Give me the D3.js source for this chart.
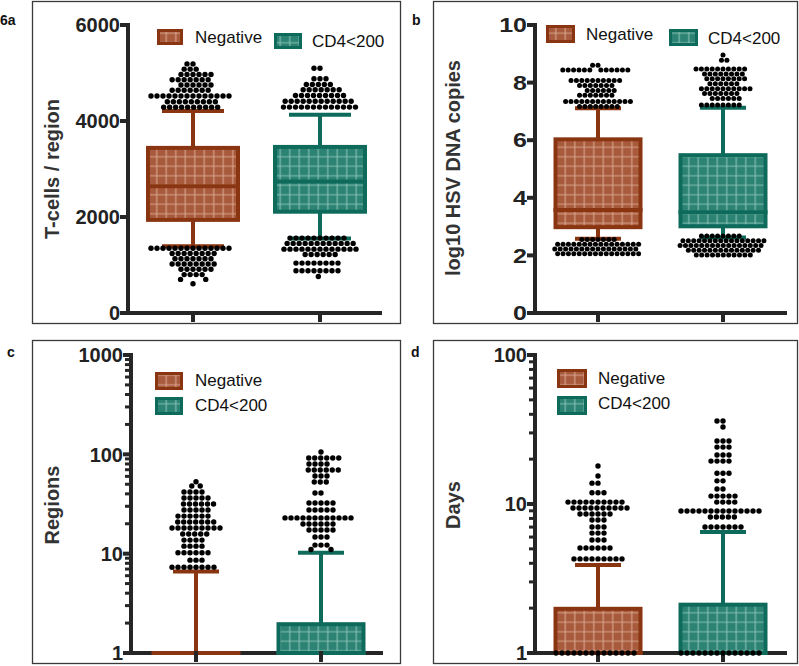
<!DOCTYPE html>
<html><head><meta charset="utf-8">
<script src="https://cdn.jsdelivr.net/npm/d3@7"></script>
<style>
body{margin:0;background:#fff}
svg{display:block}
text{font-family:"Liberation Sans",Arial,sans-serif}
</style>
</head><body>
<svg id="chart" width="799" height="666"></svg>
<script>
// ---------------- DATA ----------------
const groups = ["Negative", "CD4<200"];
// box stats: [whiskerLow, q1, median, q3, whiskerHigh]

// Panel a: T-cells / region
const tcellsTicks = [0, 2000, 4000, 6000];
const tcellsBoxNeg = [1390, 1940, 2640, 3440, 4210];
const tcellsBoxCd4 = [1550, 2110, 2740, 3460, 4130];
const tcellsDotsNeg = [
  5190, 5190,
  5080, 5080, 5080,
  4970, 4970, 4970, 4970, 4970, 4970,
  4860, 4860, 4860, 4860, 4860, 4860, 4860,
  4750, 4750, 4750, 4750, 4750, 4750,
  4640, 4640, 4640, 4640, 4640, 4640, 4640,
  4520, 4520, 4520, 4520, 4520, 4520, 4520, 4520, 4520, 4520, 4520, 4520, 4520, 4520,
  4400, 4400, 4400, 4400, 4400, 4400, 4400, 4400, 4400,
  4285, 4285, 4285, 4285, 4285, 4285, 4285, 4285, 4285, 4285,
  1350, 1350, 1350, 1350, 1350, 1350, 1350, 1350, 1350, 1350, 1350, 1350, 1350, 1350,
  1240, 1240, 1240, 1240, 1240, 1240, 1240, 1240,
  1130, 1130, 1130, 1130, 1130, 1130, 1130,
  1020, 1020, 1020, 1020, 1020, 1020, 1020, 1020,
  910, 910, 910, 910, 910, 910,
  800, 800, 800, 800,
  700, 700,
  610
];
const tcellsDotsCd4 = [
  5100, 5100,
  4880, 4880, 4880,
  4760, 4760, 4760, 4760, 4760,
  4650, 4650, 4650, 4650, 4650, 4650, 4650,
  4530, 4530, 4530, 4530, 4530, 4530, 4530, 4530, 4530,
  4410, 4410, 4410, 4410, 4410, 4410, 4410, 4410, 4410, 4410, 4410, 4410,
  4290, 4290, 4290, 4290, 4290, 4290, 4290, 4290, 4290, 4290, 4290, 4290, 4290,
  1560, 1560, 1560, 1560, 1560, 1560, 1560, 1560, 1560, 1560,
  1450, 1450, 1450, 1450, 1450, 1450, 1450, 1450, 1450, 1450, 1450, 1450,
  1330, 1330, 1330, 1330, 1330, 1330, 1330, 1330, 1330, 1330, 1330, 1330, 1330,
  1220, 1220, 1220, 1220, 1220, 1220,
  1040, 1040, 1040, 1040, 1040, 1040, 1040, 1040,
  880, 880, 880, 880, 880, 880, 880, 880,
  760
];

// Panel b: log10 HSV DNA copies
const hsvTicks = [0, 2, 4, 6, 8, 10];
const hsvBoxNeg = [2.58, 2.98, 3.58, 6.03, 7.11];
const hsvBoxCd4 = [2.62, 3.01, 3.50, 5.48, 7.13];
const hsvDotsNeg = [
  8.60, 8.60,
  8.44, 8.44, 8.44, 8.44, 8.44, 8.44, 8.44, 8.44, 8.44, 8.44, 8.44, 8.44,
  8.07, 8.07, 8.07, 8.07, 8.07, 8.07, 8.07, 8.07, 8.07, 8.07,
  7.90, 7.90, 7.90, 7.90, 7.90, 7.90, 7.90,
  7.73, 7.73, 7.73, 7.73, 7.73, 7.73,
  7.56, 7.56, 7.56, 7.56, 7.56, 7.56, 7.56,
  7.34, 7.34, 7.34, 7.34, 7.34, 7.34, 7.34, 7.34, 7.34, 7.34, 7.34, 7.34, 7.34,
  7.17, 7.17, 7.17, 7.17, 7.17, 7.17, 7.17, 7.17,
  2.55, 2.55, 2.55, 2.55, 2.55, 2.55, 2.55,
  2.385, 2.385, 2.385, 2.385, 2.385, 2.385, 2.385, 2.385, 2.385, 2.385, 2.385, 2.385, 2.385, 2.385, 2.385, 2.385,
  2.22, 2.22, 2.22, 2.22, 2.22, 2.22, 2.22, 2.22, 2.22, 2.22, 2.22, 2.22, 2.22, 2.22, 2.22, 2.22,
  2.055, 2.055, 2.055, 2.055, 2.055, 2.055, 2.055, 2.055, 2.055, 2.055, 2.055, 2.055, 2.055, 2.055, 2.055, 2.055
];
const hsvDotsCd4 = [
  8.96,
  8.78, 8.78,
  8.47, 8.47, 8.47, 8.47, 8.47, 8.47, 8.47, 8.47, 8.47, 8.47,
  8.30, 8.30, 8.30, 8.30, 8.30, 8.30, 8.30, 8.30,
  8.13, 8.13, 8.13, 8.13, 8.13, 8.13, 8.13, 8.13,
  7.96, 7.96, 7.96, 7.96, 7.96, 7.96,
  7.79, 7.79, 7.79, 7.79, 7.79, 7.79, 7.79, 7.79, 7.79, 7.79,
  7.62, 7.62, 7.62, 7.62, 7.62, 7.62, 7.62,
  7.45, 7.45, 7.45, 7.45, 7.45, 7.45,
  7.22, 7.22, 7.22, 7.22, 7.22, 7.22, 7.22, 7.22,
  2.675, 2.675, 2.675, 2.675, 2.675, 2.675, 2.675, 2.675,
  2.505, 2.505, 2.505, 2.505, 2.505, 2.505, 2.505, 2.505, 2.505, 2.505, 2.505, 2.505, 2.505, 2.505, 2.505, 2.505,
  2.34, 2.34, 2.34, 2.34, 2.34, 2.34, 2.34, 2.34, 2.34, 2.34, 2.34, 2.34, 2.34, 2.34, 2.34, 2.34,
  2.175, 2.175, 2.175, 2.175, 2.175, 2.175, 2.175, 2.175, 2.175, 2.175, 2.175, 2.175, 2.175, 2.175,
  2.01, 2.01, 2.01, 2.01, 2.01, 2.01, 2.01, 2.01, 2.01, 2.01, 2.01
];

// Panel c: Regions (log)
const regionsTicks = [1, 10, 100, 1000];
const regionsBoxNeg = [1, 1, 1, 1, 6.6];
const regionsBoxCd4 = [1, 1, 1, 1.95, 10.2];
const regionsDotsNeg = [
  53,
  48, 48,
  41.8, 41.8, 41.8, 41.8,
  36.3, 36.3, 36.3, 36.3, 36.3,
  31.6, 31.6, 31.6, 31.6, 31.6, 31.6,
  27.5, 27.5, 27.5, 27.5, 27.5,
  23.9, 23.9, 23.9, 23.9, 23.9, 23.9,
  20.8, 20.8, 20.8, 20.8, 20.8, 20.8, 20.8,
  18.1, 18.1, 18.1, 18.1, 18.1, 18.1, 18.1, 18.1, 18.1,
  15.8, 15.8, 15.8, 15.8, 15.8,
  13.7, 13.7, 13.7, 13.7,
  11.9, 11.9, 11.9, 11.9,
  10.2, 10.2, 10.2, 10.2, 10.2, 10.2,
  8.6, 8.6, 8.6,
  7.3, 7.3, 7.3, 7.3, 7.3, 7.3, 7.3, 7.3
];
const regionsDotsCd4 = [
  105.6,
  91.9, 91.9, 91.9, 91.9, 91.9, 91.9,
  79.9, 79.9, 79.9, 79.9,
  69.6, 69.6, 69.6, 69.6, 69.6, 69.6,
  60.5, 60.5, 60.5,
  52.7, 52.7, 52.7,
  40.8, 40.8,
  32.4, 32.4, 32.4, 32.4, 32.4,
  27.5, 27.5, 27.5, 27.5, 27.5,
  22.9, 22.9, 22.9, 22.9, 22.9, 22.9, 22.9, 22.9, 22.9, 22.9, 22.9, 22.9,
  19.9, 19.9, 19.9, 19.9, 19.9, 19.9,
  17.3, 17.3, 17.3, 17.3, 17.3,
  14.7, 14.7, 14.7,
  12.2, 12.2, 12.2,
  11.0, 11.0
];

// Panel d: Days (log)
const daysTicks = [1, 10, 100];
const daysBoxNeg = [1, 1, 1, 1.98, 3.9];
const daysBoxCd4 = [1, 1, 1, 2.11, 6.5];
const daysDotsNeg = [
  18.0,
  15.4,
  13.8, 13.8,
  11.9, 11.9, 11.9,
  10.3, 10.3, 10.3, 10.3, 10.3, 10.3, 10.3, 10.3, 10.3, 10.3,
  9.40, 9.40, 9.40, 9.40, 9.40, 9.40, 9.40, 9.40, 9.40, 9.40,
  8.57, 8.57, 8.57, 8.57, 8.57, 8.57,
  7.81, 7.81, 7.81,
  7.01, 7.01, 7.01,
  6.38, 6.38, 6.38,
  5.73, 5.73, 5.73,
  5.07, 5.07, 5.07, 5.07, 5.07, 5.07,
  4.28, 4.28, 4.28, 4.28, 4.28, 4.28, 4.28, 4.28, 4.28,
  1, 1, 1, 1, 1, 1, 1, 1, 1, 1, 1, 1, 1, 1
];
const daysDotsCd4 = [
  36.1, 36.1,
  32.9,
  26.5, 26.5, 26.5,
  24.1, 24.1, 24.1,
  21.3, 21.3, 21.3,
  19.4, 19.4, 19.4, 19.4,
  16.1, 16.1, 16.1,
  14.3, 14.3,
  12.6, 12.6,
  11.3, 11.3, 11.3, 11.3, 11.3,
  10.3, 10.3, 10.3, 10.3,
  8.97, 8.97, 8.97, 8.97, 8.97, 8.97, 8.97, 8.97, 8.97, 8.97, 8.97, 8.97, 8.97, 8.97,
  8.18, 8.18, 8.18, 8.18, 8.18,
  7.01, 7.01, 7.01, 7.01, 7.01, 7.01, 7.01,
  1, 1, 1, 1, 1, 1, 1, 1, 1, 1, 1, 1, 1, 1
];

// ---------------- STYLE ----------------
const COLORS = {
  "Negative": {stroke: "#8A3511", fill: "#A85A3C", grid: "#D9A58F", pat: "pNeg"},
  "CD4<200": {stroke: "#0E6B5C", fill: "#2C8273", grid: "#86C2B5", pat: "pCd4"}
};
const AXIS = "#262626";

const svg = d3.select("#chart");
const defs = svg.append("defs");
groups.forEach(gname => {
  const c = COLORS[gname];
  const p = defs.append("pattern").attr("id", c.pat)
    .attr("patternUnits", "userSpaceOnUse").attr("width", 9.5).attr("height", 9.5);
  p.append("rect").attr("width", 9.5).attr("height", 9.5).attr("fill", c.fill);
  p.append("path").attr("d", "M4.75,0V9.5M0,4.75H9.5")
    .attr("stroke", c.grid).attr("stroke-width", 1.1).attr("fill", "none");
});

// beeswarm layout: returns x offsets
function swarm(values, yScale, dist) {
  const pts = values.map(v => ({v, y: yScale(v), x: 0}))
    .sort((a, b) => a.y - b.y);
  const placed = [];
  for (const p of pts) {
    const iv = [];
    for (const q of placed) {
      const dy = Math.abs(p.y - q.y);
      if (dy < dist) {
        const dx = Math.sqrt(dist * dist - dy * dy);
        iv.push([q.x - dx, q.x + dx]);
      }
    }
    const cands = [0];
    iv.forEach(i => { cands.push(i[0], i[1]); });
    cands.sort((a, b) => Math.abs(a) - Math.abs(b));
    let best = 0;
    for (const c of cands) {
      if (!iv.some(i => c > i[0] + 1e-6 && c < i[1] - 1e-6)) { best = c; break; }
    }
    p.x = best;
    placed.push(p);
  }
  return pts;
}

const panels = [
  {label: "6a", labelPos: [0, 25], frame: [32, 1, 400, 323], log: false,
   domain: [0, 6000], yRange: [313, 25], ticks: tcellsTicks, tickScaleX: 1,
   axisX: 128, xEnd: 382, xPos: [193, 320], boxW: 90, capW: 62,
   title: "T-cells / region", titlePos: [52, 169],
   boxes: [tcellsBoxNeg, tcellsBoxCd4], dots: [tcellsDotsNeg, tcellsDotsCd4], dist: 6,
   legend: [[157, 29, 26, 16, 195, 43], [274, 33, 28, 16, 312, 47]]},
  {label: "b", labelPos: [412, 25], frame: [433, 1, 797, 323], log: false,
   domain: [0, 10], yRange: [313, 25], ticks: hsvTicks, tickScaleX: 1.25,
   axisX: 535, xEnd: 787, xPos: [598, 723], boxW: 85, capW: 46,
   title: "log10 HSV DNA copies", titlePos: [453, 168],
   boxes: [hsvBoxNeg, hsvBoxCd4], dots: [hsvDotsNeg, hsvDotsCd4], dist: 5.4,
   legend: [[546, 25, 29, 18, 586, 40], [669, 29, 29, 17, 708, 44]]},
  {label: "c", labelPos: [7, 357], frame: [32, 340, 400, 663], log: true,
   domain: [1, 1000], yRange: [653, 355], ticks: regionsTicks, tickScaleX: 1,
   axisX: 131, xEnd: 383, xPos: [196, 321], boxW: 85, capW: 46,
   title: "Regions", titlePos: [52, 505],
   boxes: [regionsBoxNeg, regionsBoxCd4], dots: [regionsDotsNeg, regionsDotsCd4], dist: 6,
   legend: [[155, 372, 28, 18, 195, 386], [155, 397, 28, 18, 195, 411]]},
  {label: "d", labelPos: [411, 357], frame: [433, 340, 797, 663], log: true,
   domain: [1, 100], yRange: [653, 355], ticks: daysTicks, tickScaleX: 1,
   axisX: 535, xEnd: 787, xPos: [598, 723], boxW: 85, capW: 46,
   title: "Days", titlePos: [453, 505],
   boxes: [daysBoxNeg, daysBoxCd4], dots: [daysDotsNeg, daysDotsCd4], dist: 6,
   legend: [[557, 369, 30, 19, 598, 384], [557, 396, 30, 19, 598, 409]]}
];

panels.forEach(cfg => {
  const g = svg.append("g");
  const f = cfg.frame;
  g.append("rect").attr("x", f[0] + 0.5).attr("y", f[1] + 0.5)
    .attr("width", f[2] - f[0]).attr("height", f[3] - f[1])
    .attr("fill", "none").attr("stroke", "#3a3a3a").attr("stroke-width", 1.3);

  g.append("text").attr("x", cfg.labelPos[0]).attr("y", cfg.labelPos[1])
    .attr("font-size", 14).attr("font-weight", "bold").attr("fill", "#111").text(cfg.label);

  const y = (cfg.log ? d3.scaleLog() : d3.scaleLinear()).domain(cfg.domain).range(cfg.yRange);
  const x = d3.scalePoint().domain(groups).range(cfg.xPos);
  const yb = cfg.yRange[0], yt = cfg.yRange[1];
  const fmt = d3.format("d");

  if (cfg.log) {
    const majors = new Set(cfg.ticks);
    g.selectAll(".minor").data(y.ticks().filter(t => !majors.has(t))).join("line")
      .attr("x1", cfg.axisX - 6).attr("x2", cfg.axisX)
      .attr("y1", d => y(d)).attr("y2", d => y(d))
      .attr("stroke", AXIS).attr("stroke-width", 3);
  }
  g.selectAll(".major").data(cfg.ticks).join("line")
    .attr("x1", cfg.axisX - 8).attr("x2", cfg.axisX)
    .attr("y1", d => y(d)).attr("y2", d => y(d))
    .attr("stroke", AXIS).attr("stroke-width", 4);
  g.selectAll(".tl").data(cfg.ticks).join("text")
    .attr("transform", d => `translate(${cfg.axisX - 8},${y(d)}) scale(${cfg.tickScaleX},1)`)
    .attr("dy", "0.36em")
    .attr("text-anchor", "end").attr("font-size", 20).attr("font-weight", "bold")
    .attr("fill", "#222").text(d => fmt(d));
  g.append("line").attr("x1", cfg.axisX).attr("x2", cfg.axisX)
    .attr("y1", yt - 2).attr("y2", yb + 2).attr("stroke", AXIS).attr("stroke-width", 4);
  g.append("line").attr("x1", cfg.axisX - 2).attr("x2", cfg.xEnd)
    .attr("y1", yb).attr("y2", yb).attr("stroke", AXIS).attr("stroke-width", 4);

  groups.forEach((gname, i) => {
    const b = cfg.boxes[i], c = COLORS[gname];
    const cx = x(gname), x0 = cx - cfg.boxW / 2, x1 = cx + cfg.boxW / 2;
    if (b[4] > b[3]) {
      g.append("line").attr("x1", cx).attr("x2", cx).attr("y1", y(b[3])).attr("y2", y(b[4]))
        .attr("stroke", c.stroke).attr("stroke-width", 4);
      g.append("line").attr("x1", cx - cfg.capW / 2).attr("x2", cx + cfg.capW / 2)
        .attr("y1", y(b[4])).attr("y2", y(b[4])).attr("stroke", c.stroke).attr("stroke-width", 4);
    }
    if (b[0] < b[1]) {
      g.append("line").attr("x1", cx).attr("x2", cx).attr("y1", y(b[1])).attr("y2", y(b[0]))
        .attr("stroke", c.stroke).attr("stroke-width", 4);
      g.append("line").attr("x1", cx - cfg.capW / 2).attr("x2", cx + cfg.capW / 2)
        .attr("y1", y(b[0])).attr("y2", y(b[0])).attr("stroke", c.stroke).attr("stroke-width", 4);
    }
    if (b[3] > b[1]) {
      g.append("rect").attr("x", x0).attr("y", y(b[3]))
        .attr("width", x1 - x0).attr("height", y(b[1]) - y(b[3]))
        .attr("fill", `url(#${c.pat})`).attr("stroke", c.stroke).attr("stroke-width", 4);
    }
    g.append("line").attr("x1", x0 - 2).attr("x2", x1 + 2)
      .attr("y1", y(b[2])).attr("y2", y(b[2]))
      .attr("stroke", c.stroke).attr("stroke-width", 4);
  });

  g.selectAll(".xt").data(groups).join("line")
    .attr("x1", d => x(d)).attr("x2", d => x(d))
    .attr("y1", yb - 2).attr("y2", yb + 9)
    .attr("stroke", AXIS).attr("stroke-width", 4);

  groups.forEach((gname, i) => {
    const pts = swarm(cfg.dots[i], y, cfg.dist);
    g.selectAll(null).data(pts).join("circle")
      .attr("cx", d => x(gname) + d.x).attr("cy", d => d.y)
      .attr("r", cfg.dist <= 5.5 ? 2.5 : 2.7).attr("fill", "#000");
  });

  groups.forEach((gname, i) => {
    const L = cfg.legend[i], c = COLORS[gname];
    g.append("rect").attr("x", L[0] + 1.5).attr("y", L[1] + 1.5)
      .attr("width", L[2] - 3).attr("height", L[3] - 3)
      .attr("fill", `url(#${c.pat})`).attr("stroke", c.stroke).attr("stroke-width", 3);
    g.append("text").attr("x", L[4]).attr("y", L[5])
      .attr("font-size", 17).attr("fill", "#111").text(gname);
  });

  g.append("text")
    .attr("transform", `translate(${cfg.titlePos[0]},${cfg.titlePos[1]}) rotate(-90)`)
    .attr("text-anchor", "middle").attr("dy", "0.35em")
    .attr("font-size", 20).attr("font-weight", "bold").attr("fill", "#333")
    .text(cfg.title);
});
</script>
</body></html>
